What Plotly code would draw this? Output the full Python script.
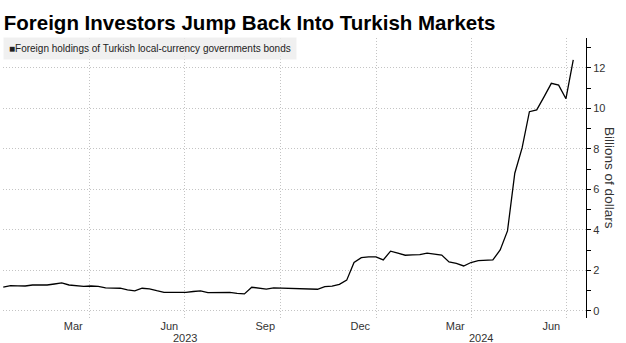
import pandas as pd
import plotly.graph_objects as go

# Weekly foreign holdings of Turkish local-currency government bonds ($bn)
week_start = "2023-01-08"
holdings = [
    1.17, 1.25, 1.24, 1.23, 1.28, 1.28, 1.28, 1.33, 1.38, 1.28,
    1.23, 1.21, 1.23, 1.21, 1.14, 1.12, 1.12, 1.04, 0.99, 1.12,
    1.09, 1.00, 0.92, 0.92, 0.92, 0.92, 0.96, 0.99, 0.90, 0.91,
    0.92, 0.92, 0.87, 0.84, 1.17, 1.11, 1.08, 1.14, 1.13, 1.10,
    1.09, 1.08, 1.08, 1.07, 1.20, 1.22, 1.31, 1.52, 2.39, 2.63,
    2.67, 2.67, 2.52, 2.95, 2.86, 2.75, 2.77, 2.78, 2.85, 2.81,
    2.76, 2.42, 2.35, 2.22, 2.39, 2.48, 2.50, 2.52, 3.01, 3.95,
    6.80, 8.05, 9.84, 9.93, 10.57, 11.24, 11.15, 10.48, 12.40,
]
dates = pd.date_range(week_start, periods=len(holdings), freq="7D")

# Axis labelling
month_label_dates = ["2023-03-16", "2023-06-16", "2023-09-16",
                     "2023-12-16", "2024-03-16", "2024-06-16"]
month_labels = ["Mar", "Jun", "Sep", "Dec", "Mar", "Jun"]
quarter_lines = ["2023-04-01", "2023-07-01", "2023-10-01",
                 "2024-01-01", "2024-04-01", "2024-07-01"]
year_label_dates = ["2023-07-01", "2024-04-10"]
year_labels = ["2023", "2024"]
y_ticks = [0, 2, 4, 6, 8, 10, 12]

title_text = "Foreign Investors Jump Back Into Turkish Markets"
series_name = "Foreign holdings of Turkish local-currency governments bonds"
y_title = "Billions of dollars"

FONT = "Liberation Sans"
GRID = "#c4c4c4"
GRID_DASH = "1px,2px"

fig = go.Figure()
fig.add_trace(go.Scatter(
    x=dates, y=holdings, mode="lines", name=series_name,
    line=dict(color="#000000", width=1.3), showlegend=False,
))

fig.update_layout(
    width=626, height=343,
    margin=dict(l=3, r=40, t=38, b=25),
    paper_bgcolor="white", plot_bgcolor="white",
    title=dict(text=f"<b>{title_text}</b>", x=0.006, xanchor="left",
               y=0.932, yanchor="middle", yref="container",
               font=dict(family=FONT, size=20.5, color="#000000")),
    font=dict(family=FONT, size=11, color="#333333"),
)

fig.update_xaxes(
    range=["2023-01-07 18:00", "2024-07-19 05:00"],
    tickmode="array", tickvals=month_label_dates, ticktext=month_labels,
    showgrid=False, showline=False, zeroline=False, ticks="",
    tickfont=dict(family=FONT, size=11, color="#333333"),
    minor=dict(tickmode="array", tickvals=quarter_lines, showgrid=True,
               gridcolor=GRID, griddash=GRID_DASH, gridwidth=1, ticks=""),
)

fig.update_yaxes(
    side="right", range=[-0.35, 13.48],
    tickmode="array", tickvals=y_ticks,
    showgrid=True, gridcolor=GRID, griddash=GRID_DASH, gridwidth=1,
    zeroline=False, showline=True, linecolor="#000000", linewidth=1,
    ticks="outside", ticklen=4, tickcolor="#000000", tickwidth=1,
    minor=dict(dtick=1, ticks="outside", ticklen=4, tickcolor="#000000",
               showgrid=False),
    tickfont=dict(family=FONT, size=11, color="#333333"),
)

# Axis title reading top to bottom on the right
fig.add_annotation(
    x=1.041, xref="paper", xanchor="center", y=0.5, yref="paper",
    yanchor="middle", text=y_title, textangle=90, showarrow=False,
    font=dict(family=FONT, size=13.5, color="#333333"),
)

# Year labels under the month ticks
for d, lbl in zip(year_label_dates, year_labels):
    fig.add_annotation(x=d, xref="x", y=-0.072, yref="paper",
                       text=lbl, showarrow=False, yanchor="middle",
                       font=dict(family=FONT, size=11, color="#333333"))

# Legend box
fig.add_annotation(
    x=0, xref="paper", xanchor="left", y=1.003, yref="paper", yanchor="top",
    text="■" + series_name, showarrow=False, align="left",
    bgcolor="rgba(236,236,236,0.8)", borderpad=5,
    font=dict(family=FONT, size=10, color="#222222"),
)

fig.write_html("out.html")
